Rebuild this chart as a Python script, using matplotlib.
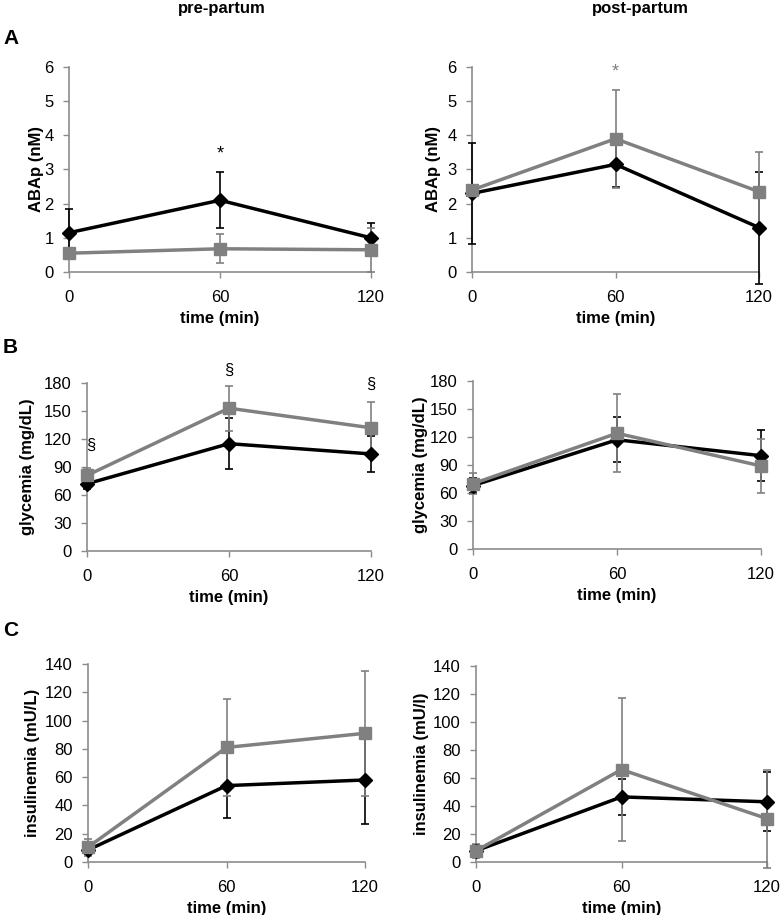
import numpy as np
import matplotlib
matplotlib.use("Agg")
import matplotlib.pyplot as plt

plt.rcParams['font.family'] = ['Liberation Sans', 'DejaVu Sans']

time = [0, 60, 120]
xticks = [0, 60, 120]

# ABAp (nM)
aba_pre_black = [1.15, 2.1, 1.0]
aba_pre_black_err = [0.68, 0.82, 0.43]
aba_pre_gray = [0.55, 0.68, 0.65]
aba_pre_gray_err = [0.1, 0.42, 0.65]
aba_post_black = [2.3, 3.15, 1.3]
aba_post_black_err = [1.48, 0.65, 1.64]
aba_post_gray = [2.4, 3.9, 2.35]
aba_post_gray_err = [0.1, 1.44, 1.15]

# glycemia (mg/dL)
gly_pre_black = [72, 115, 104]
gly_pre_black_err = [6, 27, 19]
gly_pre_gray = [81, 153, 132]
gly_pre_gray_err = [8, 24, 28]
gly_post_black = [68, 117, 100]
gly_post_black_err = [8, 24, 27]
gly_post_gray = [70, 124, 89]
gly_post_gray_err = [11, 42, 29]

# insulinemia (mU/L)
ins_pre_black = [8.5, 54, 58]
ins_pre_black_err = [3, 23, 31]
ins_pre_gray = [10.5, 81, 91]
ins_pre_gray_err = [6, 34, 44]
ins_post_black = [8, 46.5, 43]
ins_post_black_err = [4, 13, 21]
ins_post_gray = [8, 66, 31]
ins_post_gray_err = [5, 51, 35]

BLACK = '#000000'
GRAY = '#808080'
AXC = '#8c8c8c'

fig = plt.figure(figsize=(7.81, 9.15), dpi=100)
W, H = 781.0, 915.0


def make_ax(l, r, t, b):
    return fig.add_axes([l / W, 1 - b / H, (r - l) / W, (b - t) / H])


def draw(ax, yb, eb, yg, eg, ymax, ystep, ylabel, lab_px, left_px):
    for y, e, c, m, ms in [(yb, eb, BLACK, 'D', 7), (yg, eg, GRAY, 's', 8)]:
        ax.errorbar(time, y, yerr=e, color=c, ecolor=c, elinewidth=1.2,
                    capsize=3, capthick=1.2, lw=2.5, marker=m, ms=ms,
                    mec=c, mfc=c, clip_on=False, zorder=3)
    ax.set_xlim(0, 120)
    ax.set_ylim(0, ymax)
    ax.set_xticks(xticks)
    ax.set_yticks(np.arange(0, ymax + ystep / 2, ystep))
    for s in ['top', 'right']:
        ax.spines[s].set_visible(False)
    for s in ['left', 'bottom']:
        ax.spines[s].set_color(AXC)
        ax.spines[s].set_linewidth(1.2)
    ax.tick_params(axis='both', direction='out', length=4, width=1,
                   color=AXC, labelsize=12)
    ax.tick_params(axis='x', pad=9)
    ax.tick_params(axis='y', pad=7)
    ax.set_xlabel('time (min)', fontsize=12, fontweight='bold', labelpad=4)
    ax.set_ylabel(ylabel, fontsize=12, fontweight='bold', va='center')
    w = ax.get_position().width * W
    ax.yaxis.set_label_coords((lab_px - left_px) / w, 0.5)


ax = make_ax(69, 371, 67, 272)
draw(ax, aba_pre_black, aba_pre_black_err, aba_pre_gray, aba_pre_gray_err,
     6, 1, 'ABAp (nM)', 37, 69)
ax.text(60, 3.45, '*', ha='center', va='center', fontsize=13, color=BLACK)

ax = make_ax(472, 759, 67, 272)
draw(ax, aba_post_black, aba_post_black_err, aba_post_gray, aba_post_gray_err,
     6, 1, 'ABAp (nM)', 433, 472)
ax.text(60, 5.85, '*', ha='center', va='center', fontsize=13, color=GRAY)

ax = make_ax(87, 371, 383, 551)
draw(ax, gly_pre_black, gly_pre_black_err, gly_pre_gray, gly_pre_gray_err,
     180, 30, 'glycemia (mg/dL)', 28, 87)
for x, y in [(1.5, 113), (60, 193), (120, 179)]:
    ax.text(x, y, '§', ha='center', va='center', fontsize=12, clip_on=False)

ax = make_ax(473, 761, 381, 549)
draw(ax, gly_post_black, gly_post_black_err, gly_post_gray, gly_post_gray_err,
     180, 30, 'glycemia (mg/dL)', 420, 473)

ax = make_ax(88, 365, 664, 862)
draw(ax, ins_pre_black, ins_pre_black_err, ins_pre_gray, ins_pre_gray_err,
     140, 20, 'insulinemia (mU/L)', 32, 88)

ax = make_ax(476, 767, 666, 862)
draw(ax, ins_post_black, ins_post_black_err, ins_post_gray, ins_post_gray_err,
     140, 20, 'insulinemia (mU/l)', 422, 476)

fig.text(222 / W, 1 - 9 / H, 'pre-partum', ha='center', va='center',
         fontsize=12, fontweight='bold')
fig.text(640 / W, 1 - 9 / H, 'post-partum', ha='center', va='center',
         fontsize=12, fontweight='bold')
for lab, y in [('A', 39), ('B', 348), ('C', 631)]:
    fig.text(3 / W, 1 - y / H, lab, ha='left', va='center',
             fontsize=15, fontweight='bold')

fig.savefig('out.png', dpi=100)
